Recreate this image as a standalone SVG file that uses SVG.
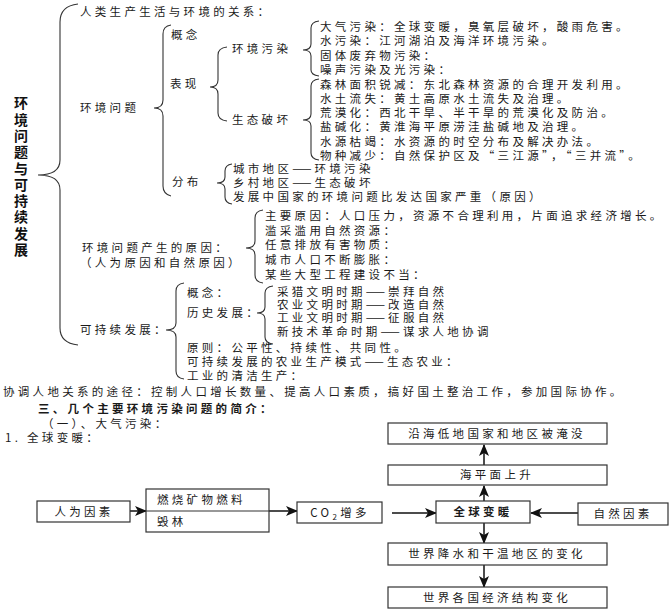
<svg xmlns="http://www.w3.org/2000/svg" width="672" height="609" viewBox="0 0 672 609">
<defs>
<style>
.t{font-family:"Noto Sans CJK SC","Noto Sans CJK JP",sans-serif;font-size:11.5px;letter-spacing:3.3px;fill:#1a1a1a}
.d{letter-spacing:0}
.c{text-anchor:middle}
.b{font-weight:bold}
.h{font-family:"Noto Sans CJK SC",sans-serif;font-size:14px;font-weight:bold;fill:#111;writing-mode:vertical-rl;letter-spacing:2.3px}
.br{fill:none;stroke:#333;stroke-width:1.1}
.bx{fill:#fff;stroke:#333;stroke-width:1.2}
.ln{fill:none;stroke:#111;stroke-width:1.5}
</style>
<marker id="ah" viewBox="0 0 12 10" refX="11" refY="5" markerWidth="12" markerHeight="10" markerUnits="userSpaceOnUse" orient="auto">
<path d="M0,0 L12,5 L0,10 L3,5 Z" fill="#111"/>
</marker>
</defs>
<rect width="672" height="609" fill="#fff"/>

<g id="connectors">
<path class="br" d="M78,4 Q60,6 60,22 L60,160 Q60,175 38,175 Q60,175 60,190 L60,328 Q60,343 78,345"/>
<path class="br" d="M171,25 Q163,26 163,34 L163,100 Q163,108 154,108 Q163,108 163,116 L163,186 Q163,194 171,196"/>
<path class="br" d="M227,47 Q218,48 218,55 L218,80 Q218,87 210,87 Q218,87 218,94 L218,113 Q218,120 227,121"/>
<path class="br" d="M319,21 Q311,22 311,28 L311,44 Q311,50 303,50 Q311,50 311,56 L311,70 Q311,75 319,76"/>
<path class="br" d="M319,79 Q311,80 311,86 L311,114 Q311,120 303,120 Q311,120 311,126 L311,153 Q311,159 319,160"/>
<path class="br" d="M232,164 Q225,165 225,171 L225,177 Q225,183 217,183 Q225,183 225,189 L225,197 Q225,203 232,204"/>
<path class="br" d="M263,210 Q255,211 255,218 L255,241 Q255,248 246,248 Q255,248 255,255 L255,275 Q255,282 263,283"/>
<path class="br" d="M184,283 Q176,284 176,291 L176,323 Q176,330 166,330 Q176,330 176,337 L176,371 Q176,378 184,379"/>
<path class="br" d="M273,286 Q265,287 265,293 L265,307 Q265,313 257,313 Q265,313 265,319 L265,337 Q265,343 273,344"/>

<line class="ln" x1="130" y1="511" x2="146" y2="511" marker-end="url(#ah)"/>
<line class="ln" x1="269" y1="511" x2="297" y2="511" marker-end="url(#ah)"/>
<line class="ln" x1="392" y1="513" x2="436" y2="513" marker-end="url(#ah)"/>
<line class="ln" x1="578" y1="513" x2="531" y2="513" marker-end="url(#ah)"/>
<line class="ln" x1="484" y1="501" x2="484" y2="486" marker-end="url(#ah)"/>
<line class="ln" x1="484" y1="465" x2="484" y2="445" marker-end="url(#ah)"/>
<line class="ln" x1="484" y1="523" x2="484" y2="543" marker-end="url(#ah)"/>
<line class="ln" x1="484" y1="565" x2="484" y2="587" marker-end="url(#ah)"/>
</g>

<g id="title"><text class="h" x="21" y="96">环境问题与可持续发展</text></g>

<g id="relation"><text class="t" x="80" y="16">人类生产生活与环境的关系：</text></g>

<g id="env-problem">
<text class="t" x="80" y="112">环境问题</text>
<text class="t" x="171" y="39">概念</text>
<text class="t" x="170" y="88">表现</text>
<text class="t" x="172" y="186">分布</text>
</g>

<g id="pollution">
<text class="t" x="232" y="53">环境污染</text>
<text class="t"><tspan x="320" y="31">大气污染：全球变暖，臭氧层破坏，酸雨危害。</tspan><tspan x="320" y="45">水污染：江河湖泊及海洋环境污染。</tspan><tspan x="320" y="60">固体废弃物污染：</tspan><tspan x="320" y="74">噪声污染及光污染：</tspan></text>
</g>

<g id="eco">
<text class="t" x="232" y="124">生态破坏</text>
<text class="t"><tspan x="320" y="89">森林面积锐减：东北森林资源的合理开发利用。</tspan><tspan x="320" y="103">水土流失：黄土高原水土流失及治理。</tspan><tspan x="320" y="117">荒漠化：西北干旱、半干旱的荒漠化及防治。</tspan><tspan x="320" y="131">盐碱化：黄淮海平原涝洼盐碱地及治理。</tspan><tspan x="320" y="146">水源枯竭：水资源的时空分布及解决办法。</tspan><tspan x="320" y="160">物种减少：自然保护区及“三江源”，“三并流”。</tspan></text>
</g>

<g id="distribution">
<text class="t"><tspan x="233" y="173">城市地区</tspan><tspan class="d">——</tspan><tspan dx="3">环境污染</tspan><tspan x="233" y="187">乡村地区</tspan><tspan class="d">——</tspan><tspan dx="3">生态破坏</tspan><tspan x="233" y="201">发展中国家的环境问题比发达国家严重（原因）</tspan></text>
</g>

<g id="causes">
<text class="t"><tspan x="82" y="252">环境问题产生的原因：</tspan><tspan x="80" y="267">（人为原因和自然原因）</tspan></text>
<text class="t"><tspan x="265" y="220">主要原因：人口压力，资源不合理利用，片面追求经济增长。</tspan><tspan x="265" y="235">滥采滥用自然资源：</tspan><tspan x="265" y="249">任意排放有害物质：</tspan><tspan x="265" y="264">城市人口不断膨胀：</tspan><tspan x="265" y="279">某些大型工程建设不当：</tspan></text>
</g>

<g id="sustainable">
<text class="t" x="80" y="334">可持续发展：</text>
<text class="t" x="187" y="297">概念：</text>
<text class="t" x="187" y="317">历史发展：</text>
<text class="t"><tspan x="187" y="352">原则：公平性、持续性、共同性。</tspan><tspan x="187" y="366">可持续发展的农业生产模式</tspan><tspan class="d">——</tspan><tspan dx="3">生态农业：</tspan><tspan x="187" y="380">工业的清洁生产：</tspan></text>
</g>

<g id="history">
<text class="t"><tspan x="277" y="296">采猎文明时期</tspan><tspan class="d">——</tspan><tspan dx="3">崇拜自然</tspan><tspan x="277" y="309">农业文明时期</tspan><tspan class="d">——</tspan><tspan dx="3">改造自然</tspan><tspan x="277" y="322">工业文明时期</tspan><tspan class="d">——</tspan><tspan dx="3">征服自然</tspan><tspan x="277" y="336">新技术革命时期</tspan><tspan class="d">——</tspan><tspan dx="3">谋求人地协调</tspan></text>
</g>

<g id="coordination"><text class="t" x="3" y="396">协调人地关系的途径：控制人口增长数量、提高人口素质，搞好国土整治工作，参加国际协作。</text></g>

<g id="section">
<text class="t"><tspan class="b" x="38" y="413">三、几个主要环境污染问题的简介：</tspan><tspan x="42" y="428">（一）、大气污染：</tspan><tspan x="5" y="442">1.  全球变暖：</tspan></text>
</g>

<g id="n-human"><rect class="bx" x="37" y="501" width="93" height="21"/><text class="t c" x="84" y="516">人为因素</text></g>
<g id="n-burn"><rect class="bx" x="146" y="489" width="123" height="43"/><line class="br" x1="146" y1="511" x2="269" y2="511"/><text class="t"><tspan x="157" y="504">燃烧矿物燃料</tspan><tspan x="157" y="526">毁林</tspan></text></g>
<g id="n-co2"><rect class="bx" x="297" y="502" width="85" height="21"/><text class="t c" x="340" y="517">CO<tspan font-size="8" dy="3">2</tspan><tspan dy="-3">增多</tspan></text></g>
<g id="n-warm"><rect class="bx" x="436" y="501" width="94" height="22"/><text class="t c b" x="483" y="516">全球变暖</text></g>
<g id="n-natural"><rect class="bx" x="578" y="503" width="90" height="22"/><text class="t c" x="623" y="518">自然因素</text></g>
<g id="n-sea"><rect class="bx" x="388" y="465" width="219" height="20"/><text class="t c" x="497" y="479">海平面上升</text></g>
<g id="n-coast"><rect class="bx" x="388" y="423" width="219" height="21"/><text class="t c" x="497" y="438">沿海低地国家和地区被淹没</text></g>
<g id="n-rain"><rect class="bx" x="388" y="543" width="219" height="22"/><text class="t c" x="497" y="558">世界降水和干温地区的变化</text></g>
<g id="n-econ"><rect class="bx" x="388" y="587" width="219" height="21"/><text class="t c" x="497" y="602">世界各国经济结构变化</text></g>
</svg>
